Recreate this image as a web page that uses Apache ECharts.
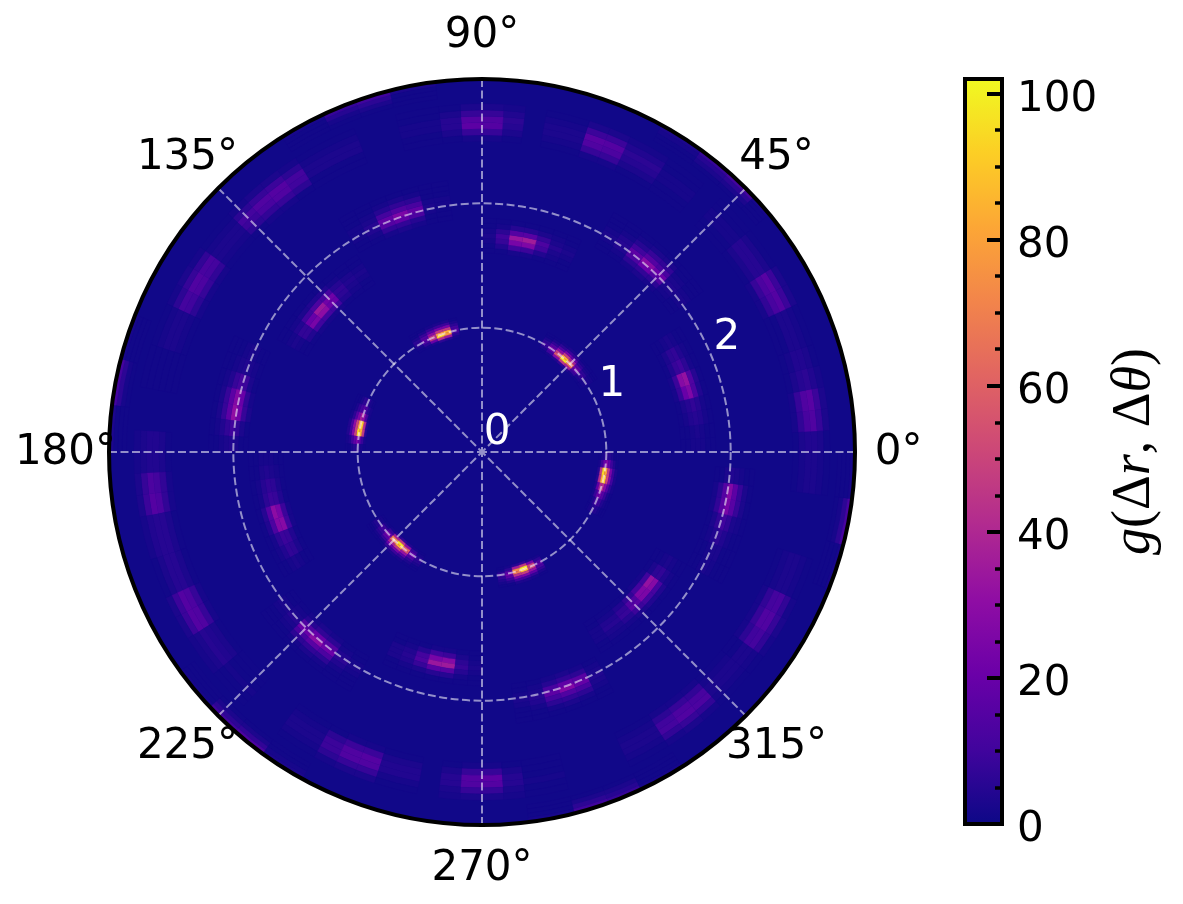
<!DOCTYPE html>
<html><head><meta charset="utf-8">
<style>html,body{margin:0;padding:0;background:#fff}#c{width:1183px;height:904px}</style>
<script src="https://cdn.jsdelivr.net/npm/echarts@6/dist/echarts.min.js"></script>
</head><body><div id="c"></div>
<script>
// colour scale (plasma) and axis values
const plasma = ['#0d0887','#41049d','#6a00a8','#8f0da4','#b12a90','#cc4778','#e16462','#f2844b','#fca636','#fcce25','#f0f921'];
const colorMax = 102;
const radiusLabels = [0, 1, 2];
const angleLabels = [0, 45, 90, 135, 180, 225, 270, 315];
const angleLabelRadius = 3.35;
const backgroundRow = [0, 3, 0, 360, 0.7];

// Each row: [theta start, theta end, values going outward in r]
const ring1Start = 0.94, ring1Step = 0.02;
const ring1Rows = [
 [32.4,36, 1,2,3,4,3,2,1,1],[36,39.6, 1,3,6,9,6,3,2,1],[39.6,43.2, 2,8,16,22,14,7,3,1],
 [43.2,46.8, 5,36,66,60,36,18,7,3],[46.8,50.4, 7,46,96,84,48,24,9,3],[50.4,54, 4,28,56,48,30,14,6,2],
 [54,57.6, 2,9,18,22,14,7,3,1],[57.6,61.2, 1,3,7,9,6,3,1,1],
 [100.8,104.4, 2,5,11,15,11,6,3,1],[104.4,108, 5,34,76,84,46,24,9,3],[108,111.6, 6,42,92,76,46,24,9,3],
 [111.6,115.2, 3,20,44,44,30,16,7,2],[115.2,118.8, 2,6,13,17,14,8,3,1],[118.8,122.4, 1,2,5,7,6,3,1,1],
 [154.8,158.4, 1,2,5,7,6,3,1,1],[158.4,162, 2,5,11,15,11,7,3,1],[162,165.6, 2,12,30,36,26,15,6,2],
 [165.6,169.2, 4,40,90,80,50,30,12,4],[169.2,172.8, 5,46,84,94,50,28,11,4],[172.8,176.4, 2,8,18,24,18,10,4,2],
 [176.4,180, 1,2,4,6,5,3,1,1],
 [212.4,216, 1,2,3,5,4,2,1,1],[216,219.6, 1,3,9,11,8,5,2,1],[219.6,223.2, 2,8,18,24,16,8,3,1],
 [223.2,226.8, 5,36,70,64,38,20,8,3],[226.8,230.4, 7,46,96,84,46,24,9,3],[230.4,234, 4,30,60,54,32,16,6,2],
 [234,237.6, 2,8,16,20,13,6,3,1],[237.6,241.2, 1,2,5,7,5,3,1,1],
 [277.2,280.8, 1,2,7,9,7,4,2,1],[280.8,284.4, 2,6,16,22,16,9,4,1],[284.4,288, 5,36,74,68,44,24,10,3],
 [288,291.6, 7,46,96,86,48,26,10,3],[291.6,295.2, 3,24,48,50,32,18,7,2],[295.2,298.8, 2,6,12,16,12,7,3,1],
 [331.2,334.8, 1,2,4,6,4,2,1,1],[334.8,338.4, 1,3,8,11,8,4,2,1],[338.4,342, 2,8,18,23,15,8,3,1],
 [342,345.6, 3,18,38,42,28,15,6,2],[345.6,349.2, 5,42,84,90,50,26,10,3],[349.2,352.8, 5,46,94,80,46,24,9,3],
 [352.8,356.4, 2,9,20,26,18,9,4,1],[356.4,360, 1,2,5,6,5,3,1,1]
];

const ringRootThreeStart = 1.60, ringRootThreeStep = 0.04;
const ringRootThreeRows = [
 [0,3.6, 1,1,2,2,2,1,1],[3.6,7.2, 1,1,2,3,2,1,1],[7.2,10.8, 1,2,4,5,4,2,1],[10.8,14.4, 1,3,5,7,5,2,1],
 [14.4,18, 2,8,20,26,13,4,1],[18,21.6, 2,9,28,32,14,5,1],[21.6,25.2, 1,4,8,10,6,2,1],[25.2,28.8, 1,3,6,7,4,2,1],[28.8,32.4, 1,1,2,3,2,1,1],
 [64.8,68.4, 1,1,2,3,2,1,1],[68.4,72, 1,2,3,5,3,2,1],[72,75.6, 1,4,10,13,8,3,1],
 [75.6,79.2, 2,9,26,36,16,5,1],[79.2,82.8, 2,10,24,33,15,5,1],[82.8,86.4, 1,4,8,10,6,2,1],[86.4,90, 1,1,2,3,2,1,1],
 [122.4,126, 1,1,2,3,2,1,1],[126,129.6, 1,2,3,4,3,1,1],[129.6,133.2, 1,4,6,7,5,2,1],
 [133.2,136.8, 2,10,20,22,12,4,1],[136.8,140.4, 2,11,30,34,13,4,1],[140.4,144, 2,10,24,20,10,3,1],[144,147.6, 1,4,7,7,4,2,1],[147.6,151.2, 1,1,2,3,2,1,1],
 [180,183.6, 1,1,2,2,2,1,1],[183.6,187.2, 1,2,3,4,3,1,1],[187.2,190.8, 1,3,6,7,5,2,1],[190.8,194.4, 1,4,8,9,6,2,1],
 [194.4,198, 2,9,24,30,15,5,1],[198,201.6, 2,10,28,27,13,4,1],[201.6,205.2, 1,4,8,9,6,2,1],[205.2,208.8, 1,3,6,7,4,2,1],[208.8,212.4, 1,1,2,3,2,1,1],
 [244.8,248.4, 1,1,3,3,3,1,1],[248.4,252, 1,2,4,5,4,2,1],[252,255.6, 1,5,11,13,8,3,1],
 [255.6,259.2, 2,10,24,34,16,5,1],[259.2,262.8, 2,9,28,35,15,5,1],[262.8,266.4, 1,3,6,8,5,2,1],[266.4,270, 1,1,2,3,2,1,1],
 [300.6,304.2, 1,1,2,2,2,1,1],[304.2,309.6, 1,2,4,5,3,2,1],[309.6,313.2, 1,4,7,8,5,2,1],[313.2,316.8, 1,7,14,16,9,3,1],
 [316.8,320.4, 2,11,26,25,11,4,1],[320.4,324, 2,10,32,28,12,4,1],[324,327.6, 1,3,6,7,4,2,1],[327.6,331.2, 1,1,2,3,2,1,1]
];

const ringTwoStart = 1.88, ringTwoStep = 0.04;
const ringTwoRows = [
 [36,39.6, 1,1,2,3,2,1,1,1],[39.6,43.2, 1,2,3,4,3,2,1,1],[43.2,46.8, 2,6,14,20,12,7,3,1],[46.8,50.4, 3,7,20,28,15,8,3,1],[50.4,54, 2,6,13,17,10,5,2,1],[54,57.6, 1,2,4,5,4,2,1,1],[57.6,61.2, 1,1,2,3,2,1,1,1],
 [97.2,100.8, 1,1,1,2,2,1,1,1],[100.8,103.6, 1,1,2,3,2,1,1,1],[103.6,107.2, 2,5,13,18,12,6,2,1],[107.2,110.8, 3,7,18,25,14,7,3,1],[110.8,114.4, 2,7,15,18,11,5,2,1],[114.4,118, 1,2,4,5,3,2,1,1],[118,121.6, 1,1,2,2,2,1,1,1],
 [154.8,158.4, 1,1,2,3,2,1,1,1],[158.4,162, 1,2,3,4,3,2,1,1],[162,165.6, 1,3,9,11,8,4,2,1],[165.6,169.2, 2,7,20,27,17,8,3,1],[169.2,172.8, 3,8,22,31,17,8,3,1],[172.8,176.4, 1,3,7,10,7,4,2,1],[176.4,180, 1,1,3,4,3,2,1,1],
 [216,219.6, 1,1,2,3,2,1,1,1],[219.6,223.2, 1,2,3,5,3,2,1,1],[223.2,226.8, 2,5,14,20,12,6,2,1],[226.8,230.4, 3,7,20,29,16,7,3,1],[230.4,234, 2,6,15,21,13,6,2,1],[234,237.6, 1,2,4,6,4,2,1,1],[237.6,241.2, 1,1,2,3,2,1,1,1],
 [277.2,280.8, 1,1,2,3,2,1,1,1],[280.8,284.4, 1,2,3,5,4,2,1,1],[284.4,288, 2,5,12,17,11,6,2,1],[288,291.6, 3,7,18,27,14,7,3,1],[291.6,295.2, 2,6,16,19,12,6,2,1],[295.2,298.8, 1,2,3,4,3,2,1,1],
 [331.2,334.8, 1,1,2,3,2,1,1,1],[334.8,338.4, 1,1,2,3,3,1,1,1],[338.4,342, 1,2,4,6,4,2,1,1],[342,345.6, 1,3,7,10,7,3,2,1],[345.6,349.2, 2,7,16,24,16,8,3,1],[349.2,352.8, 2,6,15,27,17,8,3,1],[352.8,356.4, 1,1,3,4,3,2,1,1]
];

const ringSqrtSevenStart = 2.50, ringSqrtSevenStep = 0.05;
const ringSqrtSevenRows = [
 [0,3.6, 1,3,4,4,3,1],[3.6,7.2, 2,7,12,14,8,3],[7.2,10.8, 2,8,14,16,9,3],[10.8,14.4, 1,3,5,6,4,2],[14.4,18, 1,2,4,4,3,1],[18,25.2, 1,1,3,3,2,1],
 [25.2,28.8, 2,7,12,15,9,3],[28.8,32.4, 2,8,13,16,9,3],[32.4,39.6, 1,3,5,5,3,1],[39.6,46.8, 1,1,2,2,1,1],
 [50.4,57.6, 1,1,2,2,1,1],[57.6,64.8, 1,3,5,6,4,2],[64.8,68.4, 2,8,13,15,9,3],[68.4,72, 2,8,14,16,9,3],[72,79.2, 1,2,3,3,2,1],
 [82.8,86.4, 1,3,5,6,4,2],[86.4,90, 2,8,15,14,8,3],[90,93.6, 2,8,17,15,8,3],[93.6,97.2, 1,3,5,5,3,1],[97.2,104.4, 1,1,2,2,1,1],
 [111.6,122.4, 1,1,3,3,2,1],[122.4,126, 1,6,10,11,6,2],[126,129.6, 2,8,14,15,9,3],[129.6,133.2, 2,7,12,14,8,3],[133.2,136.8, 1,6,9,11,6,2],[136.8,144, 1,2,3,3,2,1],
 [144,147.6, 2,7,11,12,7,2],[147.6,151.2, 2,8,13,14,8,3],[151.2,154.8, 2,6,10,11,6,2],[154.8,162, 1,2,3,3,2,1],[162,169.2, 1,1,1,1,1,1],
 [176.4,183.6, 1,3,4,4,3,2],[183.6,187.2, 2,7,11,13,8,3],[187.2,190.8, 2,7,13,15,9,3],[190.8,198, 1,3,5,5,4,2],
 [198,204.8, 1,3,5,5,3,1],[204.8,208.4, 2,8,13,15,9,3],[208.4,212.4, 2,8,14,15,9,3],[212.4,219.6, 1,3,4,5,3,2],[219.6,226.8, 1,1,1,2,1,1],
 [234,241.2, 1,2,3,3,2,1],[241.2,244.8, 1,6,9,9,6,2],[244.8,248.4, 2,9,14,14,8,3],[248.4,252, 2,9,15,14,8,3],[252,259.2, 1,3,4,4,2,1],
 [262.8,266.4, 1,3,5,5,3,2],[266.4,270, 2,8,15,14,8,3],[270,273.6, 2,8,17,15,8,3],[273.6,277.2, 1,3,5,5,3,2],[277.2,284.4, 1,1,1,2,1,1],
 [295.2,302.4, 1,2,3,3,2,1],[302.4,306, 2,6,10,11,7,2],[306,309.6, 2,8,13,14,8,3],[309.6,313.2, 2,7,12,13,7,2],[313.2,320.4, 1,2,3,3,2,1],
 [320.4,324, 1,1,3,3,2,1],[324,327.6, 2,6,10,11,7,2],[327.6,331.2, 2,8,14,14,8,3],[331.2,334.8, 2,7,11,12,7,2],[334.8,342, 1,2,3,3,2,1],
 [352.8,360, 1,2,3,3,2,1]
];

const ringThreeStart = 2.86, ringThreeStep = 0.035;
const ringThreeRows = [
 [39.6,43.2, 1,1,1,2],[43.2,48.6, 1,3,6,11],[48.6,54, 1,3,5,8],[54,61.2, 1,1,2,3],
 [97.2,104.4, 1,1,1,3],[104.4,109.8, 1,3,6,10],[109.8,115.2, 1,2,5,8],[115.2,122.4, 1,1,1,2],
 [158.4,165.6, 1,1,1,2],[165.6,172.8, 1,2,6,11],[172.8,180, 1,1,1,3],
 [216,223.2, 1,1,1,2],[223.2,228.6, 1,3,6,10],[228.6,234, 1,3,7,13],[234,241.2, 1,1,2,3],
 [277.2,284.4, 1,1,1,2],[284.4,289.8, 1,3,6,10],[289.8,295.2, 1,3,5,8],[295.2,302.4, 1,1,1,2],
 [338.4,345.6, 1,1,1,2],[345.6,352.8, 1,2,6,12],[352.8,360, 1,1,1,2]
];

const rings = [
 [ring1Start, ring1Step, ring1Rows],
 [ringRootThreeStart, ringRootThreeStep, ringRootThreeRows],
 [ringTwoStart, ringTwoStep, ringTwoRows],
 [ringSqrtSevenStart, ringSqrtSevenStep, ringSqrtSevenRows],
 [ringThreeStart, ringThreeStep, ringThreeRows]
];

const cells = [backgroundRow];
rings.forEach(([start, step, rows]) => rows.forEach(row => {
  for (let i = 2; i < row.length; i++) {
    const r0 = start + (i - 2) * step;
    cells.push([r0, r0 + step, row[0], row[1], row[i]]);
  }
}));

const FONT = 'DejaVu Sans', SIZE = 42;
const rad = Math.PI / 180;
const gridLine = {color: 'rgba(255,255,255,0.55)', width: 2, type: [8, 3.5]};
const chart = echarts.init(document.getElementById('c'), null, {renderer: 'canvas', width: 1183, height: 904});
const gradStops = plasma.map((c, i) => ({offset: i / (plasma.length - 1), color: c}));

chart.setOption({
  animation: false,
  backgroundColor: '#ffffff',
  polar: {center: [482, 452], radius: 373},
  angleAxis: {
    type: 'value', min: 0, max: 360, interval: 45, startAngle: 0, clockwise: false, z: 6,
    axisLine: {show: true, lineStyle: {color: '#000', width: 4}},
    axisTick: {show: false},
    axisLabel: {show: false},
    splitLine: {show: true, lineStyle: gridLine}
  },
  radiusAxis: {
    type: 'value', min: 0, max: 3, interval: 1, z: 6,
    axisLine: {show: false}, axisTick: {show: false}, axisLabel: {show: false},
    splitLine: {show: true, lineStyle: gridLine}
  },
  grid: {left: 965, top: 79, width: 37, height: 745},
  xAxis: {type: 'category', data: ['g'], show: false},
  yAxis: {
    type: 'value', min: 0, max: colorMax, interval: 20, position: 'right', z: 6,
    name: '{i|g}{n|(Δ}{i|r}{n|, Δ}{i|θ}{n|)}', nameLocation: 'middle', nameRotate: 90, nameGap: 106,
    nameTextStyle: {rich: {
      i: {fontFamily: 'Liberation Serif', fontStyle: 'italic', fontSize: 54, color: '#000'},
      n: {fontFamily: 'Liberation Serif', fontSize: 54, color: '#000'}
    }},
    axisLine: {show: false},
    axisTick: {show: true, inside: true, length: 15, lineStyle: {color: '#000', width: 4}},
    minorTick: {show: true, splitNumber: 4, length: 7, lineStyle: {color: '#000', width: 3.5}},
    axisLabel: {show: true, margin: 15, showMaxLabel: false, verticalAlign: 'top', lineHeight: 12, color: '#000', fontFamily: FONT, fontSize: SIZE},
    splitLine: {show: false}
  },
  visualMap: {type: 'continuous', show: false, min: 0, max: colorMax, dimension: 4, seriesIndex: 0, inRange: {color: plasma}},
  graphic: [{type: 'rect', z: 20, shape: {x: 965, y: 79, width: 37, height: 745}, style: {fill: 'none', stroke: '#000', lineWidth: 4}}],
  series: [
    {
      type: 'custom', coordinateSystem: 'polar', data: cells, z: 2, silent: true, clip: false,
      encode: {radius: 1, angle: 3},
      renderItem(params, api) {
        const c = api.coord([0, 0]);
        const a = api.coord([api.value(0), api.value(2)]);
        const b = api.coord([api.value(1), api.value(2)]);
        const r0 = Math.hypot(a[0] - c[0], a[1] - c[1]);
        const r1 = Math.hypot(b[0] - c[0], b[1] - c[1]);
        const color = api.visual('color');
        return {
          type: 'sector',
          shape: {cx: c[0], cy: c[1], r0, r: r1, startAngle: -api.value(2) * rad, endAngle: -api.value(3) * rad, clockwise: false},
          style: {fill: color, stroke: color, lineWidth: 0.3}
        };
      }
    },
    {
      type: 'scatter', coordinateSystem: 'polar', z: 7, silent: true, symbolSize: 1,
      itemStyle: {color: 'transparent', opacity: 1},
      data: radiusLabels.map(r => [r, 22.5]),
      label: {show: true, position: 'inside', offset: [15, -19], opacity: 1, formatter: p => String(p.value[0]), color: '#ffffff', fontFamily: FONT, fontSize: SIZE}
    },
    {
      type: 'scatter', coordinateSystem: 'polar', z: 7, silent: true, symbolSize: 1, clip: false,
      itemStyle: {color: 'transparent', opacity: 1},
      data: angleLabels.map(a => [angleLabelRadius, a]),
      label: {show: true, position: 'inside', offset: [0, 1], opacity: 1, formatter: p => p.value[1] + '°', color: '#000', fontFamily: FONT, fontSize: SIZE}
    },
    {
      type: 'bar', xAxisIndex: 0, yAxisIndex: 0, barWidth: '100%', silent: true,
      data: [colorMax],
      itemStyle: {color: new echarts.graphic.LinearGradient(0, 1, 0, 0, gradStops)}
    }
  ]
});
</script></body></html>
